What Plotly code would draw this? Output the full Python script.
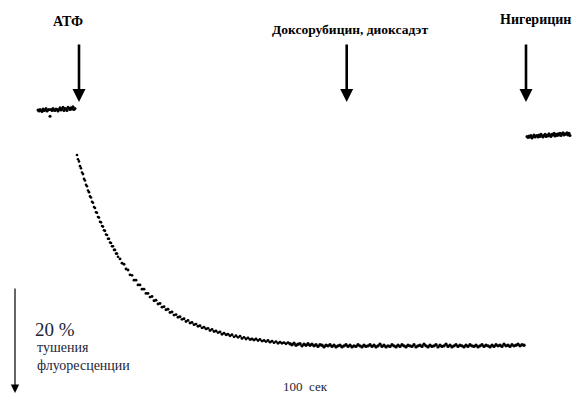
import plotly.graph_objects as go

# Fluorescence trace (% of initial), time in seconds
base_t0, base_step = 0, 1
base_f = [100.0, 99.8, 100.1, 99.9, 99.7, 100.2, 99.9, 100.0, 100.3, 99.8, 100.0, 100.1, 98.8, 100.1, 99.9,
          100.3, 100.0, 99.9, 100.2, 100.1, 99.8, 100.1, 100.4, 100.0, 100.2, 100.5, 99.9, 100.3, 100.2, 99.9,
          100.5, 100.3, 100.1, 100.4, 100.2, 100.6, 100.1, 100.3]

decay1_t0, decay1_step = 39, 1
decay1_f = [91.5, 90.7, 90.3, 89.4, 89.0, 88.2, 87.9, 87.0, 86.7, 85.9, 85.6, 84.8, 84.5, 83.7, 83.5, 82.7,
            82.5, 81.7, 81.5, 80.7, 80.6, 79.8, 79.7, 78.9, 78.8, 78.1, 78.0, 77.3, 77.2, 76.5, 76.4, 75.7,
            75.7, 75.0, 74.9, 74.3, 74.3, 73.6, 73.6, 72.9, 72.9, 72.3]

decay2_t0, decay2_step = 82, 2
decay2_f = [71.9, 71.1, 70.9, 70.0, 69.8, 68.9, 68.8, 67.9, 67.9, 67.0,
            67.0, 66.2, 66.2, 65.4, 65.4, 64.7, 64.8, 64.0, 64.1, 63.4,
            63.5, 62.8, 62.9, 62.3, 62.4, 61.8, 61.9, 61.3, 61.4, 60.9,
            61.0, 60.5, 60.6, 60.1, 60.3, 59.8, 59.9, 59.5, 59.6, 59.2,
            59.3, 58.9, 59.0, 58.7, 58.8, 58.4, 58.6, 58.2, 58.3, 58.0,
            58.1, 57.7, 57.9, 57.6, 57.7, 57.4, 57.6, 57.2, 57.4, 57.1,
            57.3, 56.9, 57.1, 56.8, 57.0, 56.7, 56.8, 56.6, 56.8, 56.5,
            56.7, 56.4, 56.5, 56.3, 56.5, 56.2, 56.4, 56.1, 56.3, 56.0,
            56.2, 56.0, 56.1, 55.9, 56.1]

plateau_t0, plateau_step = 252, 2
plateau_f = [55.9, 55.7, 56.0, 55.6, 55.8, 55.9, 55.5, 55.8, 55.6, 55.9,
             55.6, 55.8, 55.5, 55.7, 55.4, 55.7, 55.6, 55.3, 55.6, 55.5,
             55.7, 55.4, 55.6, 55.3, 55.5, 55.6, 55.3, 55.5, 55.7, 55.4,
             55.6, 55.3, 55.5, 55.4, 55.7, 55.5, 55.3, 55.6, 55.4, 55.5,
             55.7, 55.4, 55.6, 55.3, 55.5, 55.8, 55.4, 55.6, 55.3, 55.5,
             55.4, 55.7, 55.5, 55.3, 55.6, 55.4, 55.7, 55.5, 55.3, 55.6,
             55.5, 55.4, 55.7, 55.3, 55.5, 55.6, 55.4, 55.8, 55.5, 55.3,
             55.6, 55.4, 55.5, 55.7, 55.3, 55.6, 55.4, 55.5, 55.8, 55.4,
             55.6, 55.3, 55.5, 55.7, 55.4, 55.6, 55.5, 55.3, 55.6, 55.4,
             55.7, 55.5, 55.4, 55.6, 55.3, 55.5, 55.7, 55.4, 55.6, 55.5,
             55.3, 55.6, 55.4, 55.7, 55.5, 55.6, 55.4, 55.8, 55.5, 55.6,
             55.4, 55.7, 55.5, 55.6, 55.8, 55.5, 55.7, 55.6]

nig_t0, nig_step = 489, 1
nig_f = [95.0, 94.8, 95.1, 94.9, 95.2, 94.7, 95.0, 95.3, 94.9, 95.1,
         95.2, 94.9, 95.3, 95.0, 95.4, 95.1, 94.9, 95.2, 95.4, 95.0,
         95.3, 95.1, 95.5, 95.2, 95.0, 95.4, 95.3, 95.6, 95.1, 95.4,
         95.2, 95.5, 95.3, 95.6, 95.2, 95.5, 95.7, 95.3, 95.5, 95.4,
         95.7, 95.3, 95.6, 95.2]

# Additions (arrows)
event_labels = ["АТФ", "Доксорубицин, диоксадэт", "Нигерицин"]
event_t = [41, 308.7, 488]

# Scale bar: 20 % quenching
scale_pct = 20
scale_top = 66.6
scale_t = -23

def seg(t0, step, vals):
    return [t0 + i * step for i in range(len(vals))], vals

fig = go.Figure()
for t0, st, vals, sz in [(base_t0, base_step, base_f, 3),
                         (decay1_t0, decay1_step, decay1_f, 2.6),
                         (decay2_t0, decay2_step, decay2_f, 2.9),
                         (plateau_t0, plateau_step, plateau_f, 3.4),
                         (nig_t0, nig_step, nig_f, 3)]:
    x, y = seg(t0, st, vals)
    fig.add_trace(go.Scatter(x=x, y=y, mode="markers",
                             marker=dict(color="black", size=sz, line=dict(width=0)),
                             showlegend=False, hoverinfo="skip"))

arrow_tip_y = 101.5
label_pos_t = [30, 311.5, 497]
label_pos_f = [116.7, 115.1, 117.0]
label_size = [14, 13.5, 14]
for lab, t, lt, lf, ls in zip(event_labels, event_t, label_pos_t, label_pos_f, label_size):
    fig.add_annotation(x=t, y=arrow_tip_y, xref="x", yref="y", ax=0, ay=-59,
                       showarrow=True, arrowhead=2, arrowsize=1.0, arrowwidth=2.6,
                       arrowcolor="black", text="")
    fig.add_annotation(x=lt, y=lf, xref="x", yref="y",
                       text="<b>" + lab + "</b>", showarrow=False,
                       font=dict(family="Liberation Serif", size=ls, color="black"))

fig.add_annotation(x=scale_t, y=scale_top - scale_pct, ax=scale_t, ay=scale_top,
                   xref="x", yref="y", axref="x", ayref="y",
                   showarrow=True, arrowhead=2, arrowsize=1.4, arrowwidth=1.2,
                   arrowcolor="black", text="")

txtc = "#1c2638"
fig.add_annotation(x=-5, y=58.5, xref="x", yref="y", xanchor="left", showarrow=False,
                   text=f"{scale_pct} %", font=dict(family="Liberation Serif", size=19, color=txtc))
fig.add_annotation(x=-3, y=53.4, xref="x", yref="y", xanchor="left", align="left", showarrow=False,
                   text="тушения<br>флуоресценции",
                   font=dict(family="Liberation Serif", size=14, color=txtc))
fig.add_annotation(x=243, y=47.8, xref="x", yref="y", xanchor="left", showarrow=False,
                   text="100 &nbsp;сек", font=dict(family="Liberation Serif", size=13, color=txtc))

fig.update_layout(width=573, height=397, margin=dict(l=0, r=0, t=0, b=0),
                  paper_bgcolor="white", plot_bgcolor="white")
fig.update_xaxes(range=[-38, 535], visible=False)
fig.update_yaxes(range=[45.85, 120.75], visible=False)
fig.write_html("out.html", config={"displayModeBar": False, "staticPlot": True},
               post_script="document.body.style.margin='0';document.body.style.overflow='hidden';")
